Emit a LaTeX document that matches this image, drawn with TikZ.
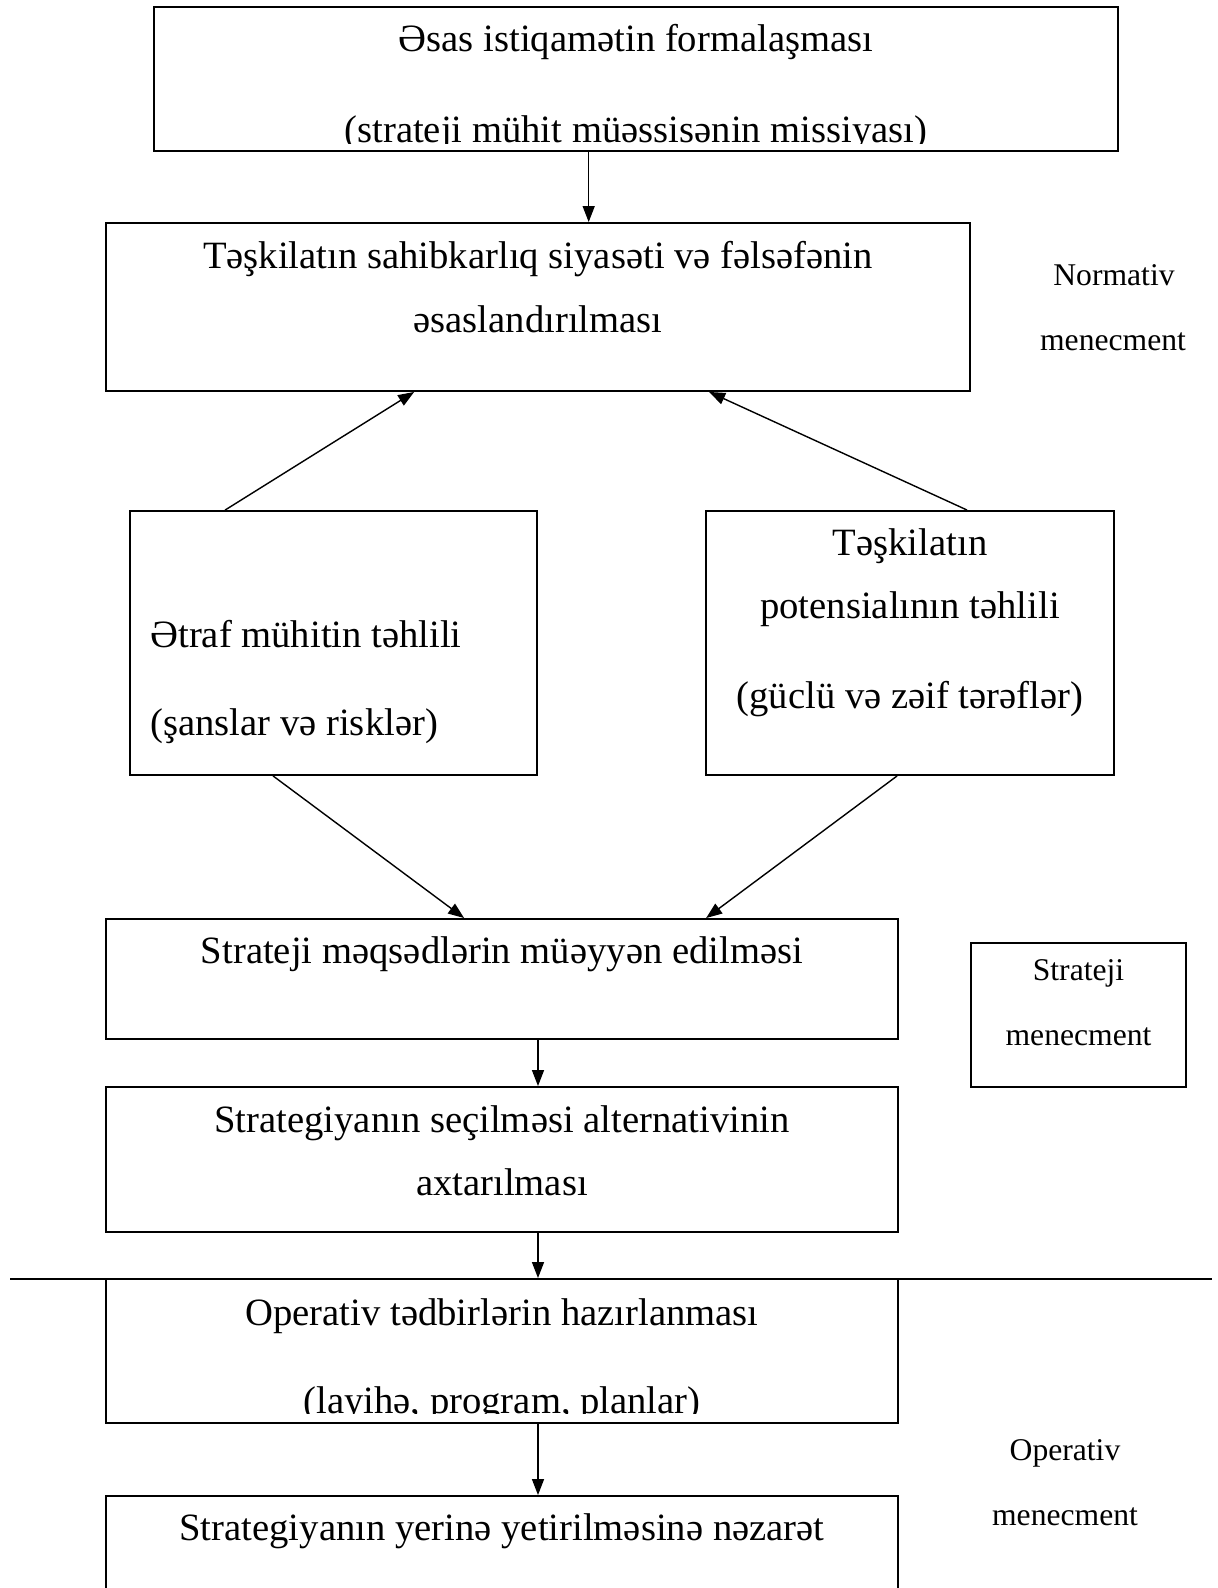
\documentclass[tikz,border=0pt]{standalone}
\usepackage{fontspec}
\setmainfont{Liberation Serif}
\usetikzlibrary{arrows.meta,calc}

\begin{document}
\begin{tikzpicture}[
    x=0.02cm,y=-0.02cm,
    every node/.style={font=\fontsize{22}{26}\selectfont, inner sep=0pt},
    box/.style={draw=black, line width=1.1pt, minimum height=2.88cm},
    wide/.style={box, minimum width=15.84cm},
    txt/.style={anchor=base},
    side/.style={anchor=base, font=\fontsize{18}{22}\selectfont},
    arr/.style={-{Triangle[length=0.32cm,width=0.24cm]}, line width=0.8pt},
    rule/.style={line width=1.1pt}
]
    \useasboundingbox (0,0) rectangle (1217,1588);

    % boxes
    \node[box, minimum width=19.28cm] (mission) at (636,79) {};
    \node[box, minimum width=17.28cm, minimum height=3.36cm] (policy) at (538,307) {};
    \node[box, minimum width=8.14cm, minimum height=5.28cm] (env) at (333.5,643) {};
    \node[box, minimum width=8.16cm, minimum height=5.28cm] (potential) at (910,643) {};
    \node[wide, minimum height=2.40cm] (goals) at (502,979) {};
    \node[wide, minimum height=2.90cm] (choice) at (502,1159.5) {};
    \node[wide] (oper) at (502,1351) {};
    \node[wide] (control) at (502,1568) {};
    \node[box, minimum width=4.30cm] (stratbox) at (1078.5,1015) {};

    % texts
    \node[txt] (mission-a) at (636,52) {Əsas istiqamətin formalaşması};
    \begin{scope}
        \clip (mission.north west) rectangle ($(mission.south east)+(0,-8)$);
        \node[txt] (mission-b) at (636,143) {(strateji mühit müəssisənin missiyası)};
    \end{scope}
    \node[txt] (policy-a) at (538,268) {Təşkilatın sahibkarlıq siyasəti və fəlsəfənin};
    \node[txt] (policy-b) at (538,332) {əsaslandırılması};
    \node[txt, anchor=base west] (env-a) at (150,647) {Ətraf mühitin təhlili};
    \node[txt, anchor=base west] (env-b) at (150,735) {(şanslar və risklər)};
    \node[txt] (pot-a) at (910,555) {Təşkilatın};
    \node[txt] (pot-b) at (910,618) {potensialının təhlili};
    \node[txt] (pot-c) at (910,708) {(güclü və zəif tərəflər)};
    \node[txt] (goals-a) at (502,963) {Strateji məqsədlərin müəyyən edilməsi};
    \node[txt] (choice-a) at (502,1132) {Strategiyanın seçilməsi alternativinin};
    \node[txt] (choice-b) at (502,1195) {axtarılması};
    \node[txt] (oper-a) at (502,1325) {Operativ tədbirlərin hazırlanması};
    \begin{scope}
        \clip (oper.north west) rectangle ($(oper.south east)+(0,-10)$);
        \node[txt] (oper-b) at (502,1413) {(layihə, program, planlar)};
    \end{scope}
    \node[txt] (control-a) at (502,1540) {Strategiyanın yerinə yetirilməsinə nəzarət};

    % side labels
    \node[side] (norm-a) at (1114,285) {Normativ};
    \node[side] (norm-b) at (1113,350) {menecment};
    \node[side] (strat-a) at (1078.5,980) {Strateji};
    \node[side] (strat-b) at (1078.5,1045) {menecment};
    \node[side] (operl-a) at (1065,1460) {Operativ};
    \node[side] (operl-b) at (1065,1525) {menecment};

    % border between strategic and operative part
    \draw[rule] (10,1279) -- (1212,1279);

    % connectors
    \coordinate (m1) at ($(mission.south west)!0.451!(mission.south east)$);
    \draw[arr] (m1) -- (m1 |- policy.north);
    \draw[arr] ($(env.north west)+(96,0)$) -- ($(policy.south west)+(309,0)$);
    \draw[arr] ($(potential.north west)+(262,0)$) -- ($(policy.south west)+(604,0)$);
    \draw[arr] ($(env.south west)+(144,0)$) -- ($(goals.north west)+(359,0)$);
    \draw[arr] ($(potential.south west)+(192,0)$) -- ($(goals.north west)+(601,0)$);
    \foreach \a/\b in {goals/choice,choice/oper,oper/control} {
        \draw[arr] ($(\a.south)+(36,0)$) -- ($(\b.north)+(36,0)$);
    }
\end{tikzpicture}
\end{document}
